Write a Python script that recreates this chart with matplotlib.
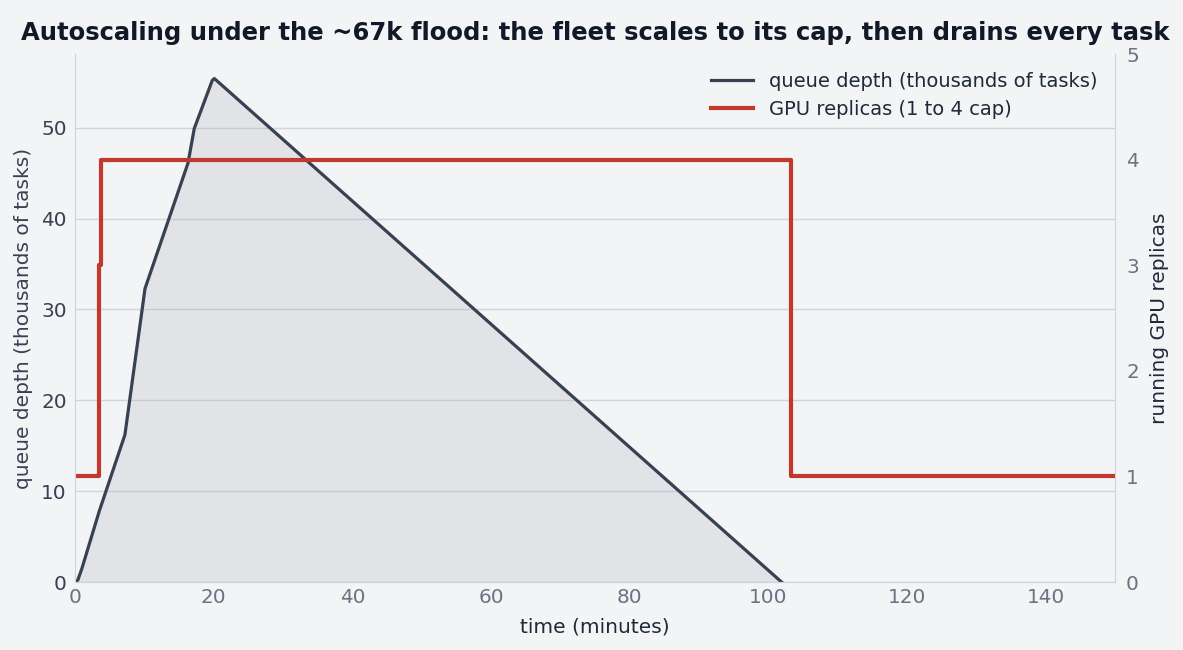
import matplotlib
matplotlib.use("Agg")
import matplotlib.pyplot as plt

# queue depth over time (thousands of tasks)
t_queue = [0, 0.4, 1.0, 3.5, 7.2, 10.1, 16.3, 17.2, 19.8, 20.1, 101.9]
q_depth = [0, 0.2, 1.5, 7.8, 16.2, 32.3, 46.1, 49.9, 55.2, 55.4, 0]

# running GPU replicas (step function)
t_rep = [0, 3.5, 3.7, 103.3, 150]
replicas = [1, 3, 4, 1, 1]

bg = "#f3f4f6"
dark = "#374151"
red = "#c0392b"

fig = plt.figure(figsize=(11.83, 6.5), dpi=100, facecolor=bg)
ax = fig.add_axes([0.0634, 0.1046, 0.8791, 0.8123])
ax.set_facecolor(bg)

ax.fill_between(t_queue, q_depth, color="#9ca3af", alpha=0.2, lw=0, zorder=1)
l1, = ax.plot(t_queue, q_depth, color=dark, lw=2.3, zorder=3,
              label="queue depth (thousands of tasks)")
ax.set_xlim(0, 150)
ax.set_ylim(0, 58.1)
ax.set_yticks([0, 10, 20, 30, 40, 50])
ax.grid(axis="y", color="#d1d5db", lw=1, zorder=0)
ax.set_axisbelow(True)
ax.set_xlabel("time (minutes)", fontsize=14.5, color="#1f2937", labelpad=8)
ax.set_ylabel("queue depth (thousands of tasks)", fontsize=14.5, color=dark, labelpad=6)
ax.tick_params(axis="y", labelsize=14.4, colors=dark, length=0, pad=6)
ax.tick_params(axis="x", labelsize=14.4, colors="#6b7280", length=0, pad=4)

ax2 = ax.twinx()
l2, = ax2.plot(t_rep, replicas, drawstyle="steps-post", color=red, lw=3,
               label="GPU replicas (1 to 4 cap)")
ax2.set_ylim(0, 5)
ax2.set_yticks([0, 1, 2, 3, 4, 5])
ax2.set_ylabel("running GPU replicas", fontsize=14.5, color="#1f2937", labelpad=8)
ax2.tick_params(axis="y", labelsize=14.4, colors="#6b7280", length=0, pad=8)

for a in (ax, ax2):
    a.spines["top"].set_visible(False)
    for s in ("left", "right", "bottom"):
        a.spines[s].set_color("#d1d5db")

ax.set_title("Autoscaling under the ~67k flood: the fleet scales to its cap, then drains every task",
             fontsize=17.5, fontweight="bold", color="#111827", pad=10)

ax2.legend([l1, l2], [l1.get_label(), l2.get_label()], loc="upper right",
           frameon=False, fontsize=14, labelcolor="#1f2937", borderaxespad=0.5,
           handlelength=2.2)

fig.savefig("out.png", dpi=100, facecolor=bg)
